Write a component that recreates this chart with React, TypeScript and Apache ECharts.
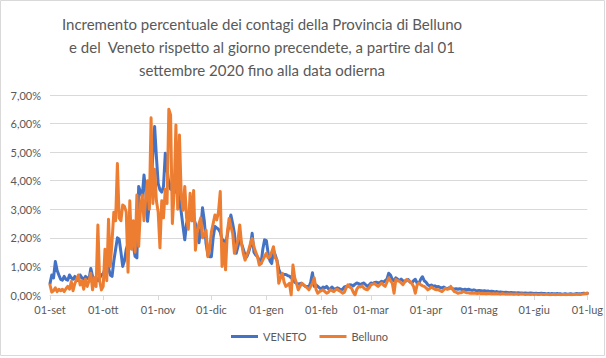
import React, { useEffect, useRef } from "react";
import * as echarts from "echarts";

const TITLE_LINES = [
  "Incremento percentuale dei contagi della Provincia di Belluno",
  "e del  Veneto rispetto al giorno precendete, a partire dal 01",
  "settembre 2020 fino alla data odierna",
];

const MONTH_ABBR = ["gen", "feb", "mar", "apr", "mag", "giu", "lug", "ago", "set", "ott", "nov", "dic"];
const FIRST_DAY = Date.UTC(2020, 8, 1);
const LAST_DAY = Date.UTC(2021, 6, 1);

const Y_MIN = 0;
const Y_MAX = 7;
const Y_STEP = 1;

// Daily % increase, VENETO (01-set-2020 .. 01-lug-2021)
const veneto: number[] = [
  // set
  0.40, 0.70, 0.60, 1.17, 0.87, 0.70, 0.55, 0.52, 0.65, 0.55,
  0.52, 0.70, 0.60, 0.55, 0.65, 0.50, 0.55, 0.70, 0.60, 0.55,
  0.65, 0.60, 0.55, 0.93, 0.65, 0.55, 0.60, 0.50, 0.60, 0.70,
  // ott
  0.75, 0.90, 1.10, 0.95, 0.70, 0.65, 1.20, 1.60, 2.00, 1.95,
  1.50, 1.00, 1.20, 1.60, 1.80, 1.75, 1.65, 1.70, 1.35, 1.30,
  3.80, 3.60, 3.45, 4.20, 3.60, 2.58, 3.20, 3.80, 4.90, 5.90,
  4.84,
  // nov
  3.90, 3.68, 3.60, 3.80, 4.96, 4.40, 3.90, 3.70, 4.00,
  3.80, 3.60, 3.70, 3.30, 2.90, 2.40, 1.93, 2.50, 2.76, 2.80,
  2.60, 2.70, 2.50, 2.20, 1.83, 2.30, 3.05, 2.60, 1.80, 1.40,
  1.34,
  // dic
  1.34, 2.00, 2.40, 2.35, 2.30, 2.20, 1.95, 1.90, 1.80,
  2.10, 2.50, 2.80, 2.50, 2.16, 1.46, 1.70, 2.00, 1.80, 1.60,
  1.40, 1.34, 1.50, 1.70, 2.16, 1.50, 1.40, 1.34, 1.20, 1.10,
  1.60, 1.93,
  // gen
  1.90, 1.46, 1.20, 1.10, 1.57, 1.40, 1.20, 0.90,
  0.76, 0.74, 0.72, 0.72, 0.68, 0.66, 0.60, 0.55, 0.45, 0.41,
  0.38, 0.40, 0.41, 0.35, 0.30, 0.30, 0.28, 0.45, 0.78, 0.30,
  0.35, 0.30, 0.25,
  // feb
  0.20, 0.28, 0.25, 0.30, 0.22, 0.20, 0.28,
  0.22, 0.20, 0.25, 0.22, 0.18, 0.20, 0.28, 0.30, 0.30, 0.36,
  0.35, 0.32, 0.38, 0.42, 0.40, 0.36, 0.40, 0.42, 0.36, 0.30,
  0.35,
  // mar
  0.42, 0.40, 0.44, 0.45, 0.42, 0.44, 0.48, 0.45, 0.50,
  0.55, 0.76, 0.70, 0.55, 0.50, 0.60, 0.55, 0.50, 0.56, 0.50,
  0.48, 0.50, 0.54, 0.45, 0.42, 0.50, 0.55, 0.42, 0.40, 0.55,
  0.64, 0.50,
  // apr
  0.45, 0.36, 0.32, 0.35, 0.30, 0.32, 0.28, 0.30,
  0.26, 0.25, 0.28, 0.24, 0.22, 0.25, 0.24, 0.22, 0.20, 0.22,
  0.20, 0.22, 0.20, 0.18, 0.20, 0.18, 0.20, 0.18, 0.16, 0.18,
  0.16, 0.15,
  // mag
  0.16, 0.15, 0.14, 0.15, 0.13, 0.14, 0.12, 0.13,
  0.12, 0.11, 0.12, 0.10, 0.11, 0.10, 0.09, 0.10, 0.09, 0.08,
  0.09, 0.08, 0.08, 0.07, 0.08, 0.07, 0.07, 0.06, 0.07, 0.06,
  0.06, 0.07, 0.06,
  // giu
  0.05, 0.06, 0.05, 0.05, 0.06, 0.05, 0.05,
  0.04, 0.05, 0.04, 0.05, 0.04, 0.04, 0.05, 0.04, 0.04, 0.03,
  0.04, 0.04, 0.03, 0.04, 0.04, 0.03, 0.04, 0.05, 0.04, 0.04,
  0.05, 0.06,
  // lug
  0.05, 0.06,
];

// Daily % increase, Belluno
const belluno: number[] = [
  // set
  0.35, 0.10, 0.15, 0.25, 0.12, 0.20, 0.15, 0.20, 0.12, 0.22,
  0.30, 0.20, 0.47, 0.15, 0.40, 0.55, 0.70, 0.35, 0.50, 0.20,
  0.55, 0.30, 0.50, 0.76, 0.18, 0.60, 0.30, 2.45, 0.50, 0.18,
  // ott
  0.30, 1.60, 0.50, 2.65, 1.00, 1.90, 2.90, 2.60, 4.60, 2.70,
  2.60, 3.15, 3.10, 2.90, 0.80, 3.30, 1.60, 2.60, 1.50, 3.50,
  1.70, 3.00, 3.50, 2.60, 3.40, 4.00, 3.00, 6.20, 3.20, 4.40,
  3.30,
  // nov
  2.90, 1.65, 3.30, 2.70, 3.70, 3.20, 6.50, 6.30, 2.50,
  3.60, 5.95, 3.00, 5.60, 3.50, 2.97, 3.80, 2.70, 2.30, 3.56,
  2.60, 3.66, 1.57, 2.20, 2.50, 2.70, 2.00, 2.10, 2.27, 1.34,
  1.62,
  // dic
  2.20, 2.50, 2.80, 2.63, 2.90, 3.62, 1.00, 1.80, 0.88,
  2.20, 2.68, 2.40, 2.16, 1.46, 1.70, 1.93, 2.45, 1.80, 1.46,
  1.22, 1.40, 1.57, 1.80, 1.98, 1.69, 1.50, 1.34, 1.05, 1.10,
  1.22, 1.35,
  // gen
  1.46, 1.30, 1.34, 1.50, 1.69, 1.30, 1.22, 0.41,
  0.60, 0.76, 0.45, 0.30, 0.35, 0.41, 0.00, 1.05, 0.60, 0.41,
  0.18, 0.30, 0.41, 0.35, 0.30, 0.25, 0.18, 0.30, 0.41, 0.60,
  0.20, 0.06, 0.12,
  // feb
  0.15, 0.18, 0.12, 0.06, 0.10, 0.18, 0.15,
  0.12, 0.18, 0.20, 0.15, 0.12, 0.06, 0.10, 0.25, 0.36, 0.28,
  0.24, 0.10, 0.00, 0.20, 0.30, 0.28, 0.32, 0.24, 0.20, 0.18,
  0.25,
  // mar
  0.36, 0.38, 0.40, 0.35, 0.30, 0.36, 0.42, 0.35, 0.30,
  0.45, 0.60, 0.50, 0.42, 0.06, 0.54, 0.50, 0.48, 0.42, 0.36,
  0.45, 0.54, 0.50, 0.48, 0.40, 0.30, 0.06, 0.35, 0.42, 0.36,
  0.32, 0.30,
  // apr
  0.25, 0.18, 0.22, 0.28, 0.24, 0.20, 0.18, 0.18,
  0.15, 0.12, 0.18, 0.24, 0.20, 0.22, 0.30, 0.20, 0.12, 0.10,
  0.06, 0.08, 0.08, 0.12, 0.10, 0.08, 0.08, 0.06, 0.07, 0.06,
  0.06, 0.05,
  // mag
  0.07, 0.05, 0.06, 0.05, 0.04, 0.06, 0.05, 0.04,
  0.05, 0.04, 0.05, 0.04, 0.03, 0.05, 0.04, 0.03, 0.04, 0.03,
  0.04, 0.03, 0.03, 0.04, 0.02, 0.03, 0.04, 0.03, 0.02, 0.03,
  0.03, 0.02, 0.03,
  // giu
  0.02, 0.03, 0.02, 0.02, 0.03, 0.02, 0.02,
  0.03, 0.02, 0.01, 0.02, 0.02, 0.01, 0.02, 0.02, 0.01, 0.02,
  0.02, 0.01, 0.02, 0.02, 0.01, 0.02, 0.02, 0.03, 0.02, 0.02,
  0.03, 0.04,
  // lug
  0.05, 0.06,
];

function buildCategories(): string[] {
  const out: string[] = [];
  for (let t = FIRST_DAY; t <= LAST_DAY; t += 86400000) {
    const d = new Date(t);
    out.push(String(d.getUTCDate()).padStart(2, "0") + "-" + MONTH_ABBR[d.getUTCMonth()]);
  }
  return out;
}

const FONT = "Lato, 'Noto Sans', sans-serif";
const TEXT = "#595959";
const GRID = "#D9D9D9";

export default function App() {
  const ref = useRef<HTMLDivElement>(null);
  useEffect(() => {
    if (!ref.current) return;
    const chart = echarts.init(ref.current, undefined, { renderer: "svg" });
    const categories = buildCategories();
    const isMonthStart = (_i: number, v: string) => v.startsWith("01-");
    chart.setOption({
      animation: false,
      backgroundColor: "#ffffff",
      textStyle: { fontFamily: FONT },
      title: {
        text: TITLE_LINES.join("\n"),
        left: 262,
        top: 12,
        padding: 0,
        textAlign: "center",
        textStyle: {
          fontFamily: FONT,
          fontSize: 15,
          fontWeight: "normal",
          color: TEXT,
          lineHeight: 23,
        },
      },
      graphic: [
        {
          type: "rect",
          shape: { x: 0.5, y: 0.5, width: 604, height: 355 },
          style: { fill: "none", stroke: GRID, lineWidth: 1 },
          silent: true,
        },
      ],
      legend: {
        left: 231,
        top: 331,
        padding: 0,
        itemWidth: 27,
        itemHeight: 3,
        itemGap: 13,
        icon: "rect",
        textStyle: { fontFamily: FONT, fontSize: 11, color: TEXT },
        data: ["VENETO", "Belluno"],
      },
      grid: { left: 50, right: 15, top: 95, bottom: 63, containLabel: false },
      xAxis: {
        type: "category",
        data: categories,
        boundaryGap: false,
        axisLine: { lineStyle: { color: GRID, width: 1 } },
        axisTick: { show: true, interval: isMonthStart, length: 5, lineStyle: { color: GRID } },
        axisLabel: {
          interval: isMonthStart,
          color: TEXT,
          fontFamily: FONT,
          fontSize: 11,
          margin: 9,
          hideOverlap: false,
        },
        splitLine: { show: false },
      },
      yAxis: {
        type: "value",
        min: Y_MIN,
        max: Y_MAX,
        interval: Y_STEP,
        axisLine: { show: false },
        axisTick: { show: false },
        axisLabel: {
          color: TEXT,
          fontFamily: FONT,
          fontSize: 11,
          margin: 9,
          formatter: (v: number) => v.toFixed(2).replace(".", ",") + "%",
        },
        splitLine: { lineStyle: { color: GRID, width: 1 } },
      },
      series: [
        {
          name: "VENETO",
          type: "line",
          data: veneto,
          symbol: "none",
          showSymbol: false,
          color: "#4472C4",
          lineStyle: { width: 3, color: "#4472C4", join: "round", cap: "round" },
          z: 2,
        },
        {
          name: "Belluno",
          type: "line",
          data: belluno,
          symbol: "none",
          showSymbol: false,
          color: "#ED7D31",
          lineStyle: { width: 3, color: "#ED7D31", join: "round", cap: "round" },
          z: 3,
        },
      ],
    });
    return () => chart.dispose();
  }, []);
  return (
    <div
      ref={ref}
      style={{ position: "fixed", left: 0, top: 0, width: 606, height: 358, background: "#fff" }}
    />
  );
}
